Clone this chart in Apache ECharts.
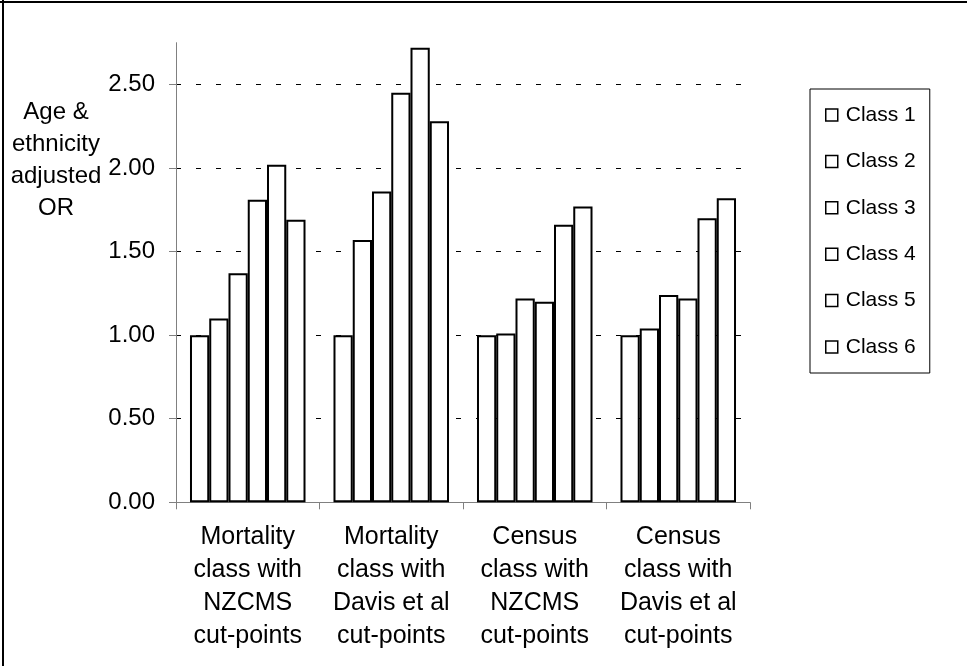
<!DOCTYPE html>
<html>
<head>
<meta charset="utf-8">
<script src="https://cdn.jsdelivr.net/npm/echarts@6/dist/echarts.min.js"></script>
<style>
  html, body { margin: 0; padding: 0; background: #fff; }
  #chart { width: 967px; height: 666px; }
</style>
</head>
<body>
<div id="chart"></div>
<script>
// Grouping categories along the x axis
const categories = [
  'Mortality\nclass with\nNZCMS\ncut-points',
  'Mortality\nclass with\nDavis et al\ncut-points',
  'Census\nclass with\nNZCMS\ncut-points',
  'Census\nclass with\nDavis et al\ncut-points'
];

// Adjusted odds ratios per class
const class1 = [1.00, 1.00, 1.00, 1.00];
const class2 = [1.10, 1.57, 1.01, 1.04];
const class3 = [1.37, 1.86, 1.22, 1.24];
const class4 = [1.81, 2.45, 1.20, 1.22];
const class5 = [2.02, 2.72, 1.66, 1.70];
const class6 = [1.69, 2.28, 1.77, 1.82];

const seriesNames = ['Class 1', 'Class 2', 'Class 3', 'Class 4', 'Class 5', 'Class 6'];
const seriesData = [class1, class2, class3, class4, class5, class6];

// Value-axis tick labels
const yTicks = [0, 0.5, 1.0, 1.5, 2.0, 2.5];
const yMax = 2.75;

const FONT = 'Liberation Sans, Arial, Helvetica, sans-serif';

const chart = echarts.init(document.getElementById('chart'), null, { renderer: 'canvas' });

const option = {
  backgroundColor: '#ffffff',
  animation: false,
  textStyle: { fontFamily: FONT, color: '#000' },
  grid: { left: 176, right: 217, top: 42.7, bottom: 163.7, containLabel: false },
  legend: {
    orient: 'vertical',
    left: 810,
    top: 89,
    padding: [15.5, 14, 15.5, 15],
    borderColor: '#000',
    borderWidth: 1,
    backgroundColor: '#fff',
    itemWidth: 12,
    itemHeight: 12,
    itemGap: 25.4,
    icon: 'rect',
    itemStyle: { color: '#fff', borderColor: '#000', borderWidth: 1.5 },
    textStyle: { fontFamily: FONT, fontSize: 21, lineHeight: 21, color: '#000', padding: [0, 0, 0, 3] },
    data: seriesNames
  },
  xAxis: {
    type: 'category',
    data: categories,
    axisLine: { show: true, lineStyle: { color: '#808080', width: 1 } },
    axisTick: { show: true, length: 7, lineStyle: { color: '#808080' } },
    axisLabel: {
      interval: 0,
      margin: 18,
      fontFamily: FONT,
      fontSize: 25,
      lineHeight: 33,
      color: '#000'
    },
    splitLine: { show: false }
  },
  yAxis: {
    type: 'value',
    min: 0,
    max: yMax,
    interval: 0.5,
    axisLine: { show: true, lineStyle: { color: '#808080', width: 1 } },
    axisTick: { show: true, length: 7, customValues: yTicks, lineStyle: { color: '#808080' } },
    axisLabel: {
      margin: 21,
      customValues: yTicks,
      fontFamily: FONT,
      fontSize: 24,
      color: '#000',
      formatter: v => v.toFixed(2)
    },
    splitLine: {
      show: true,
      showMinLine: false,
      lineStyle: { color: '#000', width: 1, type: [5, 15] }
    }
  },
  series: seriesNames.map((name, i) => ({
    name,
    type: 'bar',
    data: seriesData[i],
    barGap: '0%',
    barCategoryGap: '19.5%',
    itemStyle: { color: '#fff', borderColor: '#000', borderWidth: 2 }
  })),
  graphic: [
    {
      type: 'text',
      x: 56,
      y: 96,
      style: {
        text: 'Age &\nethnicity\nadjusted\nOR',
        font: '24px ' + FONT,
        fill: '#000',
        align: 'center',
        verticalAlign: 'top',
        lineHeight: 32
      }
    },
    {
      type: 'line',
      shape: { x1: 0, y1: 2, x2: 967, y2: 2 },
      style: { stroke: '#000', lineWidth: 2 }
    },
    {
      type: 'line',
      shape: { x1: 3, y1: 0, x2: 3, y2: 666 },
      style: { stroke: '#000', lineWidth: 2 }
    }
  ]
};

chart.setOption(option);
</script>
</body>
</html>
